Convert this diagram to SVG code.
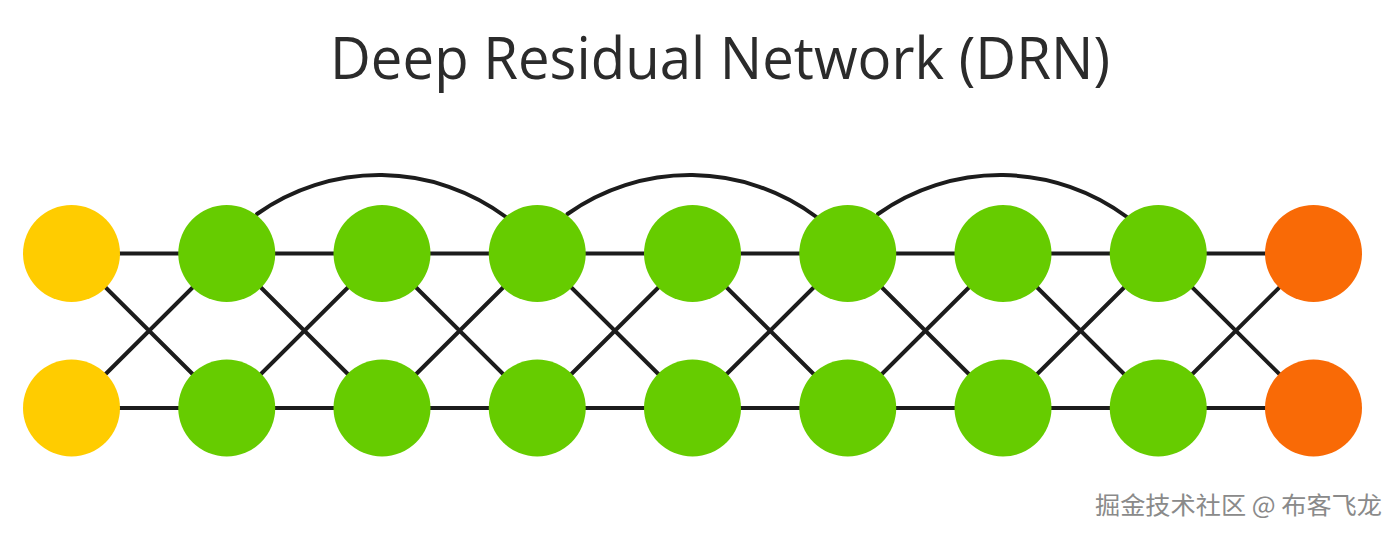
<svg xmlns="http://www.w3.org/2000/svg" width="1400" height="535" viewBox="0 0 1400 535">
<style>
.t{font-family:"Open Sans","Liberation Sans",sans-serif;font-size:58px;fill:#2b2b2b}
.wm{font-family:"Noto Sans CJK SC","Liberation Sans",sans-serif;font-size:24px;fill:#8a8a8a;stroke:#ffffff;stroke-width:0.6px;paint-order:stroke}
.e{stroke:#1c1c1c;stroke-width:4;fill:none;stroke-linecap:round}
.in{fill:#FFCC00}
.hid{fill:#66CC00}
.out{fill:#F96A06}
</style>
<rect width="1400" height="535" fill="#ffffff"/>
<text class="t" x="720" y="79" text-anchor="middle" textLength="780" lengthAdjust="spacingAndGlyphs">Deep Residual Network (DRN)</text>
<g id="edges">
<path class="e" d="M71.5,253.5H1313.5M71.5,408H1313.5"/>
<path class="e" d="M71.5,253.5L226.75,408M71.5,408L226.75,253.5M226.75,253.5L382,408M226.75,408L382,253.5M382,253.5L537.25,408M382,408L537.25,253.5M537.25,253.5L692.5,408M537.25,408L692.5,253.5M692.5,253.5L847.75,408M692.5,408L847.75,253.5M847.75,253.5L1003,408M847.75,408L1003,253.5M1003,253.5L1158.25,408M1003,408L1158.25,253.5M1158.25,253.5L1313.5,408M1158.25,408L1313.5,253.5"/>
<path class="e" d="M257,214 A212 212 0 0 1 506,217"/>
<path class="e" d="M567.5,214 A212 212 0 0 1 816.5,217"/>
<path class="e" d="M878,214 A212 212 0 0 1 1127,217"/>
</g>
<g id="n_in1"><circle class="in" cx="71.5" cy="253.5" r="48.5"/></g>
<g id="n_in2"><circle class="in" cx="71.5" cy="408" r="48.5"/></g>
<g id="n_h1a"><circle class="hid" cx="226.75" cy="253.5" r="48.5"/></g>
<g id="n_h1b"><circle class="hid" cx="226.75" cy="408" r="48.5"/></g>
<g id="n_h2a"><circle class="hid" cx="382" cy="253.5" r="48.5"/></g>
<g id="n_h2b"><circle class="hid" cx="382" cy="408" r="48.5"/></g>
<g id="n_h3a"><circle class="hid" cx="537.25" cy="253.5" r="48.5"/></g>
<g id="n_h3b"><circle class="hid" cx="537.25" cy="408" r="48.5"/></g>
<g id="n_h4a"><circle class="hid" cx="692.5" cy="253.5" r="48.5"/></g>
<g id="n_h4b"><circle class="hid" cx="692.5" cy="408" r="48.5"/></g>
<g id="n_h5a"><circle class="hid" cx="847.75" cy="253.5" r="48.5"/></g>
<g id="n_h5b"><circle class="hid" cx="847.75" cy="408" r="48.5"/></g>
<g id="n_h6a"><circle class="hid" cx="1003" cy="253.5" r="48.5"/></g>
<g id="n_h6b"><circle class="hid" cx="1003" cy="408" r="48.5"/></g>
<g id="n_h7a"><circle class="hid" cx="1158.25" cy="253.5" r="48.5"/></g>
<g id="n_h7b"><circle class="hid" cx="1158.25" cy="408" r="48.5"/></g>
<g id="n_out1"><circle class="out" cx="1313.5" cy="253.5" r="48.5"/></g>
<g id="n_out2"><circle class="out" cx="1313.5" cy="408" r="48.5"/></g>
<text class="wm" x="1095" y="514" textLength="287" lengthAdjust="spacingAndGlyphs">掘金技术社区 @ 布客飞龙</text>
</svg>
